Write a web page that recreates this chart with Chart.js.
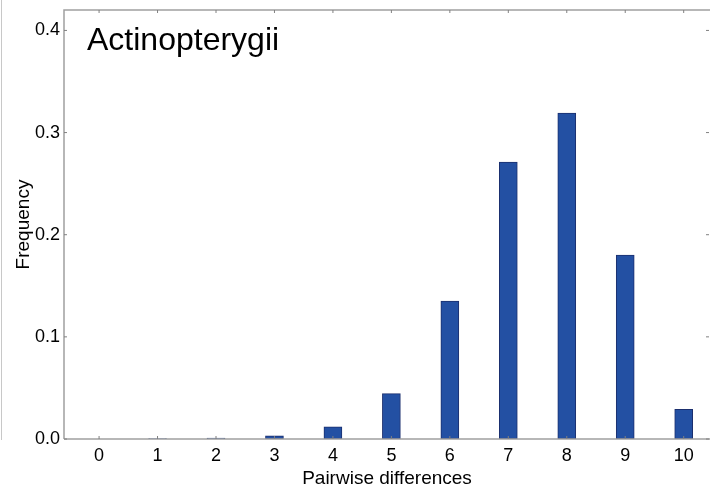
<!DOCTYPE html>
<html lang="en">
<head>
<meta charset="UTF-8">
<title>Actinopterygii</title>
<style>
  html, body { margin: 0; padding: 0; background: #fff; }
  #wrap { position: relative; width: 710px; height: 491px; }
  #edge { position: absolute; left: 1px; top: 0; height: 440px; border-left: 1px solid #c8c8c8; }
</style>
</head>
<body>
<div id="wrap">
  <div id="edge"></div>
  <canvas id="histChart" width="710" height="491"></canvas>
</div>
<script src="https://cdn.jsdelivr.net/npm/chart.js"></script>
<script>
// pairwise differences histogram
const diffs = [0, 1, 2, 3, 4, 5, 6, 7, 8, 9, 10];
const freqs = [0, 0.0005, 0.001, 0.003, 0.012, 0.0445, 0.135, 0.271, 0.319, 0.180, 0.029];
const yTicks = [0, 0.1, 0.2, 0.3, 0.4];

const FONT = "'Liberation Sans', Arial, sans-serif";
const axisGrey = '#a0a0a0';

// frame + small inward tick marks + panel label
const framePlugin = {
  id: 'frame',
  afterDraw(chart) {
    const ctx = chart.ctx;
    const a = chart.chartArea;
    const xs = chart.scales.x, ys = chart.scales.y;
    ctx.save();
    ctx.strokeStyle = axisGrey;
    ctx.lineWidth = 1.5;
    ctx.beginPath();
    ctx.moveTo(a.left, a.bottom);
    ctx.lineTo(a.left, a.top);
    ctx.lineTo(a.right + 5, a.top);
    ctx.moveTo(a.left, a.bottom);
    ctx.lineTo(a.right + 5, a.bottom);
    ctx.stroke();

    ctx.lineWidth = 1;
    ctx.strokeStyle = '#808080';
    ctx.beginPath();
    diffs.forEach(v => {
      const px = xs.getPixelForValue(v);
      ctx.moveTo(px, a.bottom); ctx.lineTo(px, a.bottom - 3);
      ctx.moveTo(px, a.top); ctx.lineTo(px, a.top + 3);
    });
    yTicks.forEach(v => {
      const py = ys.getPixelForValue(v);
      ctx.moveTo(a.left, py); ctx.lineTo(a.left + 3, py);
      ctx.moveTo(a.right - 1, py); ctx.lineTo(a.right - 4, py);
    });
    ctx.stroke();

    ctx.fillStyle = '#000';
    ctx.font = '32px ' + FONT;
    ctx.textBaseline = 'alphabetic';
    ctx.textAlign = 'left';
    ctx.fillText('Actinopterygii', a.left + 23, a.top + 40);
    ctx.restore();
  }
};

new Chart(document.getElementById('histChart'), {
  type: 'bar',
  data: {
    datasets: [{
      data: diffs.map((d, i) => ({ x: d, y: freqs[i] })),
      backgroundColor: '#2350a3',
      borderColor: '#1b2f6e',
      borderWidth: 1,
      borderSkipped: false,
      barThickness: 18
    }]
  },
  options: {
    responsive: false,
    animation: false,
    layout: { padding: { left: 0, right: 0, top: 10, bottom: 0 } },
    plugins: { legend: { display: false }, tooltip: { enabled: false } },
    scales: {
      x: {
        type: 'linear',
        offset: false,
        min: -0.6,
        max: 10.45,
        grid: { display: false, drawTicks: false, offset: false },
        border: { display: false },
        afterBuildTicks: s => { s.ticks = diffs.map(v => ({ value: v })); },
        afterFit: s => { s.height = 52; s.paddingLeft = 0; s.paddingRight = 0; },
        ticks: { color: '#000', font: { family: FONT, size: 18 }, padding: 6, autoSkip: false, maxRotation: 0 },
        title: { display: true, text: 'Pairwise differences', color: '#000',
                 font: { family: FONT, size: 19 }, padding: { top: 0, bottom: 1 } }
      },
      y: {
        min: 0,
        max: 0.42,
        grid: { display: false, drawTicks: false },
        border: { display: false },
        afterBuildTicks: s => { s.ticks = yTicks.map(v => ({ value: v })); },
        afterFit: s => { s.width = 64; s.paddingTop = 0; s.paddingBottom = 0; },
        ticks: { color: '#000', font: { family: FONT, size: 18 }, padding: 4,
                 callback: v => v.toFixed(1) },
        title: { display: true, text: 'Frequency', color: '#000',
                 font: { family: FONT, size: 19 }, padding: { top: 12, bottom: 0 } }
      }
    }
  },
  plugins: [framePlugin]
});
</script>
</body>
</html>
